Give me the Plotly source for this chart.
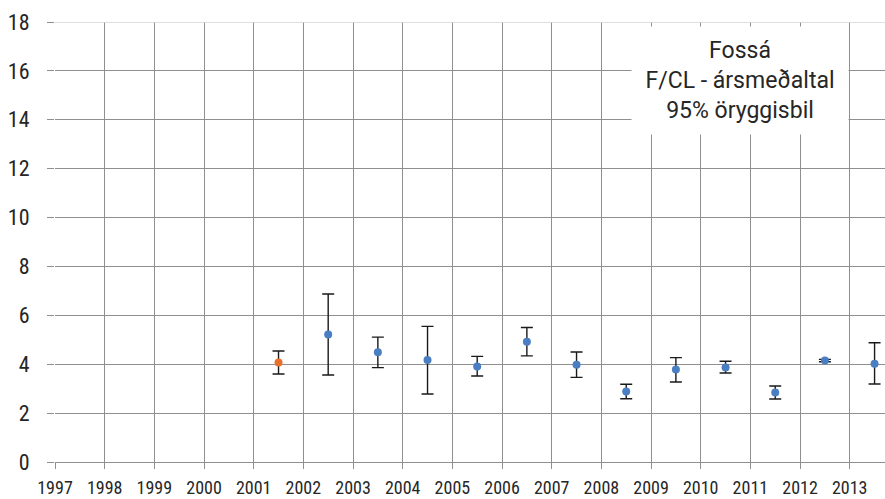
import plotly.graph_objects as go

# Annual mean F/CL for Fossá with 95% confidence limits
years = [2001, 2002, 2003, 2004, 2005, 2006, 2007, 2008, 2009, 2010, 2011, 2012, 2013]
means = [4.07, 5.22, 4.49, 4.17, 3.91, 4.92, 3.98, 2.88, 3.78, 3.87, 2.84, 4.15, 4.02]
ci_low = [3.60, 3.56, 3.86, 2.78, 3.52, 4.34, 3.46, 2.59, 3.27, 3.64, 2.58, 4.10, 3.19]
ci_high = [4.54, 6.87, 5.11, 5.55, 4.32, 5.50, 4.50, 3.18, 4.27, 4.12, 3.11, 4.20, 4.88]
# the first year is highlighted in a separate colour
highlight_years = [2001]

x_ticks = list(range(1997, 2014))
y_ticks = list(range(0, 19, 2))
title_lines = ["Fossá", "F/CL - ársmeðaltal", "95% öryggisbil"]

BLUE = "#4a7ec2"
ORANGE = "#e8702a"
GRID = "#8f8f8f"
TEXT = "#262626"
FONT = "Roboto"
TICK_FONT = "Liberation Sans Narrow, Roboto Condensed, Roboto"

fig = go.Figure()


def add_series(mask, color):
    xs, ys, up, dn = [], [], [], []
    for y, m, lo, hi in zip(years, means, ci_low, ci_high):
        if mask(y):
            xs.append(y + 0.5)
            ys.append(m)
            up.append(hi - m)
            dn.append(m - lo)
    fig.add_trace(go.Scatter(
        x=xs, y=ys, mode="markers",
        marker=dict(color=color, size=8, line=dict(width=0)),
        error_y=dict(type="data", symmetric=False, array=up, arrayminus=dn,
                     color="#1a1a1a", thickness=1.4, width=6),
        showlegend=False, hoverinfo="x+y",
    ))


add_series(lambda y: y in highlight_years, ORANGE)
add_series(lambda y: y not in highlight_years, BLUE)

fig.update_layout(
    width=885, height=499,
    margin=dict(l=55, r=0, t=22, b=37),
    paper_bgcolor="white", plot_bgcolor="white",
    font=dict(family=FONT, color=TEXT),
    xaxis=dict(
        range=[1997, 2013.71], tickmode="array", tickvals=x_ticks,
        ticktext=[str(v) for v in x_ticks],
        showgrid=True, gridcolor=GRID, gridwidth=1.3,
        ticks="outside", ticklen=6, tickcolor=GRID, tickwidth=1.3,
        ticklabelstandoff=3, automargin=False,
        tickfont=dict(size=18, color=TEXT, family=TICK_FONT),
        showline=True, linecolor=GRID, linewidth=1.3,
        zeroline=False, fixedrange=True,
    ),
    yaxis=dict(
        range=[0, 18], tickmode="array", tickvals=y_ticks,
        showgrid=True, gridcolor=GRID, gridwidth=1.3,
        ticks="outside", ticklen=7, tickcolor=GRID, tickwidth=1.3,
        ticklabelstandoff=13, automargin=False,
        tickfont=dict(size=22, color=TEXT, family=TICK_FONT),
        showline=False, zeroline=False, fixedrange=True,
    ),
)

# lighter border line along the top of the plot area
fig.add_shape(type="line", xref="paper", yref="y", x0=0, x1=1, y0=18, y1=18,
              line=dict(color="#d4d4d4", width=1.5), layer="above")

# titled label box in the upper right
fig.add_annotation(
    x=2010.79, y=15.6, xref="x", yref="y",
    text="<br>".join(title_lines), showarrow=False,
    font=dict(size=23, color=TEXT, family=FONT),
    align="center", bgcolor="white", borderpad=0,
    width=216, height=107, xanchor="center", yanchor="middle",
)

fig.write_html("out.html")
